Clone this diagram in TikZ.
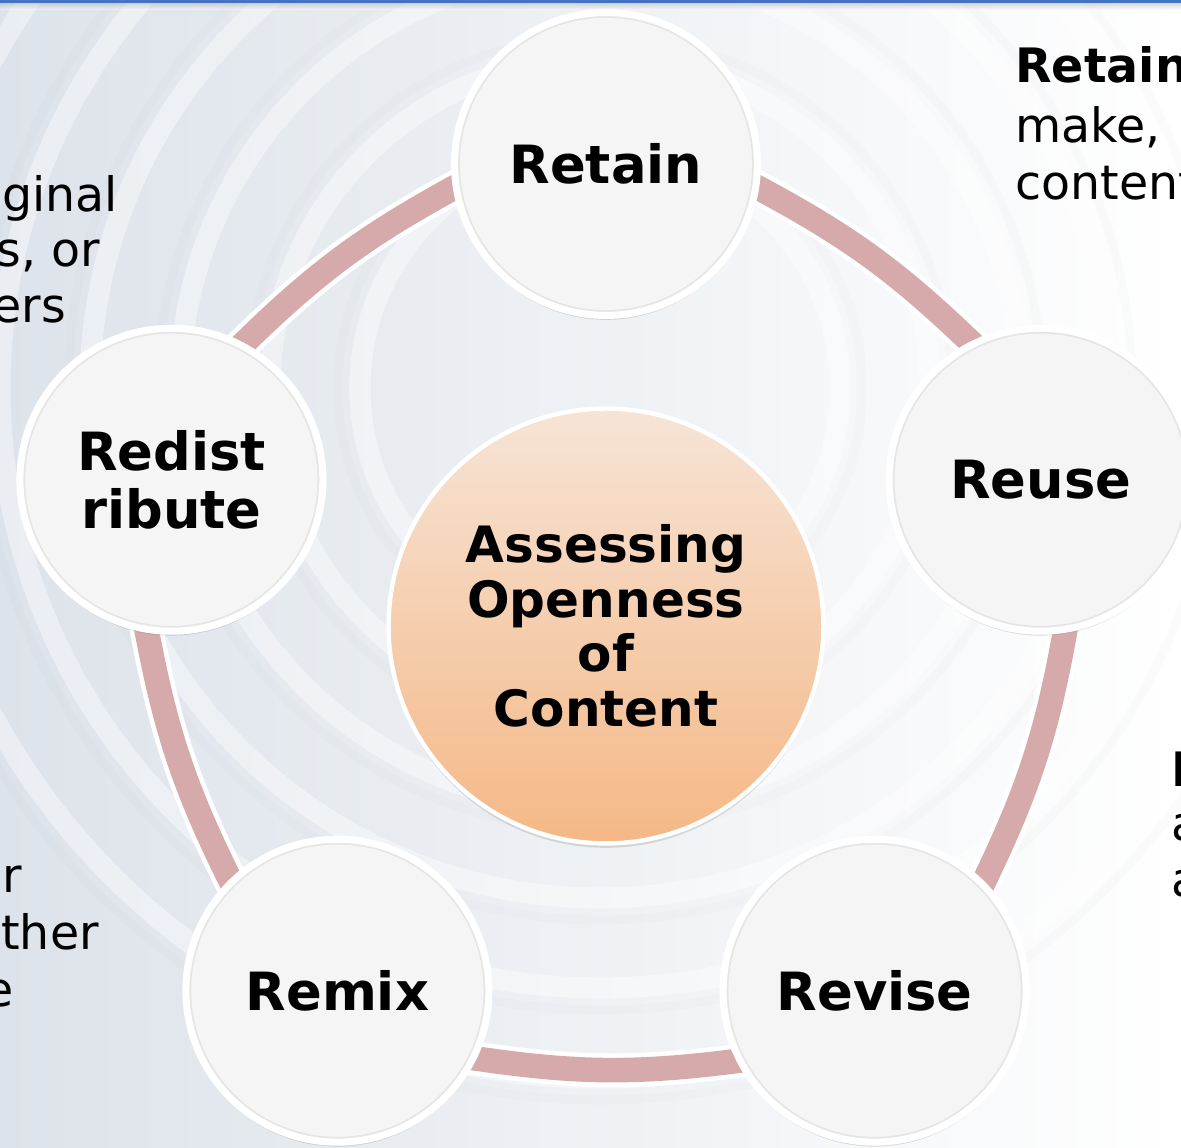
\documentclass[tikz,border=0pt]{standalone}
\usepackage{fontspec}
\setmainfont{DejaVu Sans}
\usetikzlibrary{shadows}
\definecolor{bandpink}{HTML}{D6AAAA}
\definecolor{discfill}{HTML}{F5F5F5}
\definecolor{peachtop}{HTML}{F6E4D6}
\definecolor{peachbot}{HTML}{F5B886}
\definecolor{mist}{HTML}{DDE3EA}
\definecolor{ribbon}{HTML}{4472C4}
\pgfdeclarelayer{bg}
\pgfdeclarelayer{links}
\pgfsetlayers{bg,links,main}
\tikzset{
  disc/.style={circle, fill=discfill, draw=white, line width=4pt,
    minimum size=6.06cm, inner sep=0pt, align=center,
    font=\fontsize{30}{33}\selectfont\bfseries,
    drop shadow={shadow xshift=0pt, shadow yshift=-2.5pt, opacity=.22, fill=black!60},
    path picture={\draw[black!10, line width=1.5pt]
      (path picture bounding box.center) circle (2.95cm);}},
  hub/.style={circle, top color=peachtop, bottom color=peachbot, draw=white,
    line width=2.5pt, minimum size=8.7cm, inner sep=0pt, align=center,
    font=\fontsize{28.5}{31}\selectfont\bfseries,
    drop shadow={shadow xshift=0pt, shadow yshift=-2.5pt, opacity=.2, fill=black!60}},
  link/.style={draw=white, line width=2.6pt, double=bandpink,
    double distance=14pt, shorten <=-6pt, shorten >=-6pt},
  side/.style={anchor=base west, inner sep=0pt,
    font=\fontsize{27}{32}\selectfont},
}

\begin{document}
\begin{tikzpicture}[x=0.02cm, y=0.02cm]
  \useasboundingbox (0,0) rectangle (1181,1148);
  \begin{pgfonlayer}{bg}
   \shade[left color=mist, right color=white] (0,0) rectangle (1181,1148);
   \begin{scope}
    \clip (0,0) rectangle (1181,1148);
    % soft ripples
    \foreach \r in {240,330,...,720}
     {\draw[white, line width=12pt, opacity=.4] (600,760) circle (\r);
      \draw[black!40, line width=5pt, opacity=.03] (600,760) circle (\r+22);}
   \end{scope}
   \shade[top color=black!30, bottom color=white, opacity=.5] (0,1138) rectangle (1181,1145);
   \fill[ribbon] (0,1145) rectangle (1181,1148);
  \end{pgfonlayer}

  % the five rights around the hub
  \begin{scope}[shift={(606,527)}]
   \node[disc] (retain) at (90:457) {Retain};
   \node[disc] (reuse) at (18:457) {Reuse};
   \node[disc] (revise) at (-54:457) {Revise};
   \node[disc] (remix) at (-126:457) {Remix};
   \node[disc] (redist) at (162:457) {Redist\\ribute};
   \node[hub] (hub) at (0,-5) {Assessing\\Openness\\of\\Content};
  \end{scope}

  \begin{pgfonlayer}{links}
   \draw[link] (retain.-9.25) to[bend left=8] (reuse.117.25);
   \draw[link] (reuse.-81.25) to[bend left=8] (revise.45.25);
   \draw[link] (revise.-153.25) to[bend left=8] (remix.-26.75);
   \draw[link] (remix.134.75) to[bend left=8] (redist.261.25);
   \draw[link] (redist.62.75) to[bend left=8] (retain.189.25);
  \end{pgfonlayer}

  % cut-off notes at the edges
  \begin{scope}
   \clip (0,0) rectangle (1181,1148);
   \node[side] (lt1) at (2,936) {ginal};
   \node[side] (lt2) at (-4,881) {s, or};
   \node[side] (lt3) at (-8,825) {ers};
   \node[side] (lb1) at (-27,255) {or};
   \node[side] (lb2) at (1,198) {ther};
   \node[side] (lb3) at (-16,141) {e};
   \node[side] (rt1) at (1015,1065) {\bfseries Retain};
   \node[side] (rt2) at (1015,1005) {make,};
   \node[side] (rt3) at (1015,948) {content};
   \node[side] (rm1) at (1171,361) {\bfseries R};
   \node[side] (rm2) at (1171,307) {a};
   \node[side] (rm3) at (1171,251) {a};
  \end{scope}
\end{tikzpicture}
\end{document}
